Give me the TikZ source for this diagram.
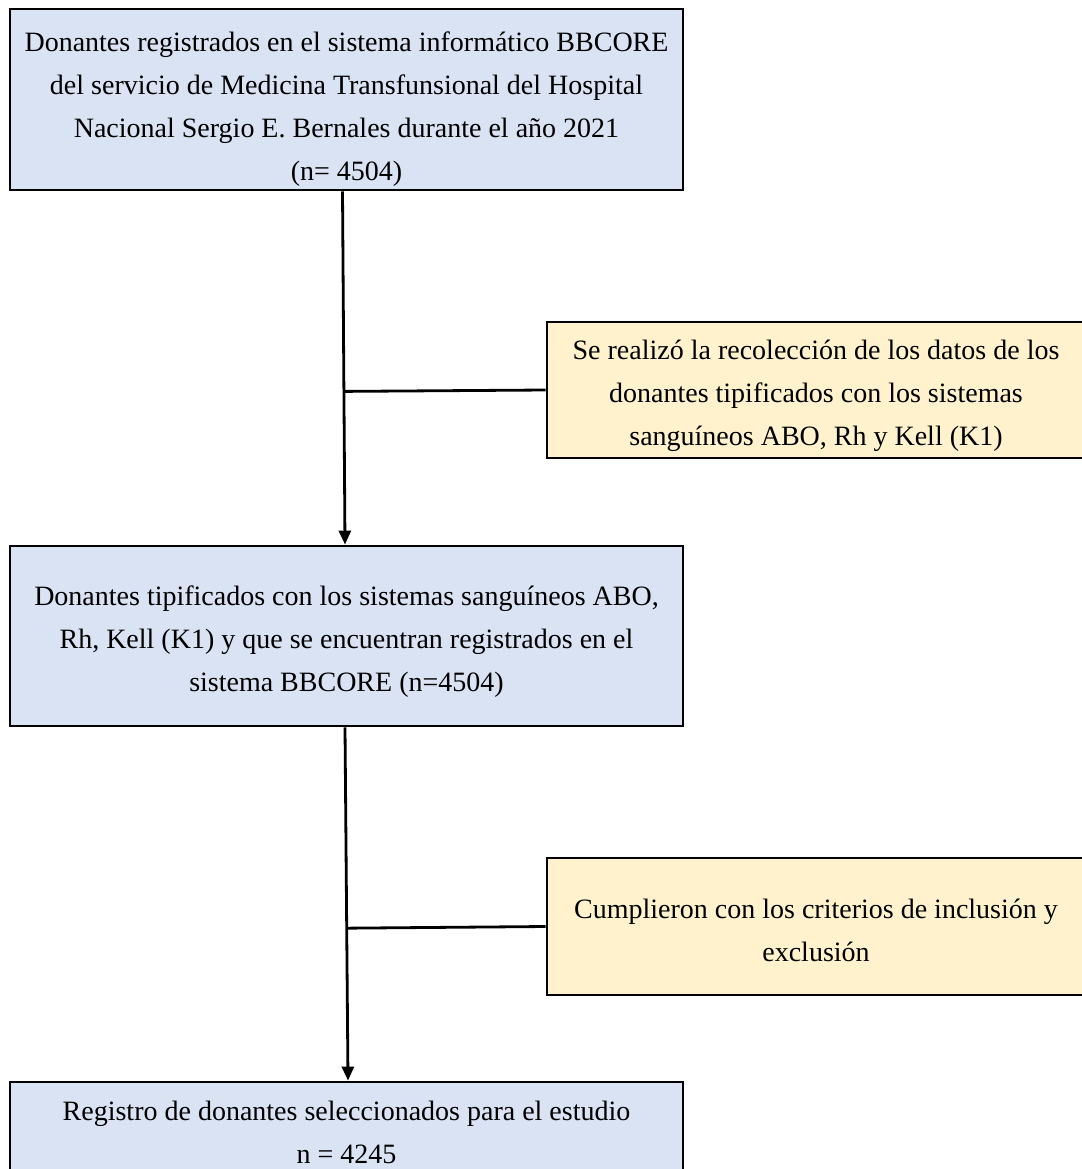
\documentclass[tikz,border=0pt]{standalone}
\usepackage{fontspec}
\setmainfont{Liberation Serif}
\usetikzlibrary{arrows.meta,calc}
\definecolor{boxblue}{RGB}{218,227,243}
\definecolor{boxyellow}{RGB}{255,242,204}
\newcommand\pushdown[2]{\raisebox{0pt}[\dimexpr\height+#1\relax]{#2}}
\tikzset{
  mainbox/.style={draw=black, line width=2.8pt, fill=boxblue, align=center, inner sep=0pt,
    minimum width=673pt, font=\fontsize{28}{43}\selectfont},
  sidebox/.style={draw=black, line width=2.8pt, fill=boxyellow, align=center, inner sep=0pt,
    minimum width=538pt, font=\fontsize{28}{43}\selectfont},
  flow/.style={line width=2.8pt, -{Triangle[length=14pt,width=12pt]}},
  branch/.style={line width=2.8pt}
}
\begin{document}
\begin{tikzpicture}
\useasboundingbox (0pt,0pt) rectangle (1081pt,-1169pt);
\node[mainbox, minimum height=181pt] (b1) at (346.5pt,-99.5pt)
  {\pushdown{20pt}{Donantes registrados en el sistema informático BBCORE}\\
   del servicio de Medicina Transfunsional del Hospital\\
   Nacional Sergio E. Bernales durante el año 2021\\
   (n= 4504)};
\node[sidebox, minimum height=136pt] (b2) at (816pt,-390pt)
  {\pushdown{12pt}{Se realizó la recolección de los datos de los}\\
   donantes tipificados con los sistemas\\
   sanguíneos ABO, Rh y Kell (K1)};
\node[mainbox, minimum height=180pt] (b3) at (346.5pt,-636pt)
  {\pushdown{12pt}{Donantes tipificados con los sistemas sanguíneos ABO,}\\
   Rh, Kell (K1) y que se encuentran registrados en el\\
   sistema BBCORE (n=4504)};
\node[sidebox, minimum height=137pt] (b4) at (816pt,-926.5pt)
  {\pushdown{8pt}{Cumplieron con los criterios de inclusión y}\\
   exclusión};
\node[mainbox, minimum height=100pt] (b5) at (346.5pt,-1132pt)
  {Registro de donantes seleccionados para el estudio\\
   n = 4245};
\coordinate (t1) at ($(b1.south)+(-4pt,0)$);
\coordinate (h1) at ($(b3.north)+(-1.5pt,0)$);
\draw[flow] (t1) -- (h1);
\draw[branch] (b2.west) -- ($(t1)!(b2.west)!(h1)$);
\coordinate (t2) at ($(b3.south)+(-1.5pt,0)$);
\coordinate (h2) at ($(b5.north)+(1.5pt,0)$);
\draw[flow] (t2) -- (h2);
\draw[branch] (b4.west) -- ($(t2)!(b4.west)!(h2)$);
\end{tikzpicture}
\end{document}
